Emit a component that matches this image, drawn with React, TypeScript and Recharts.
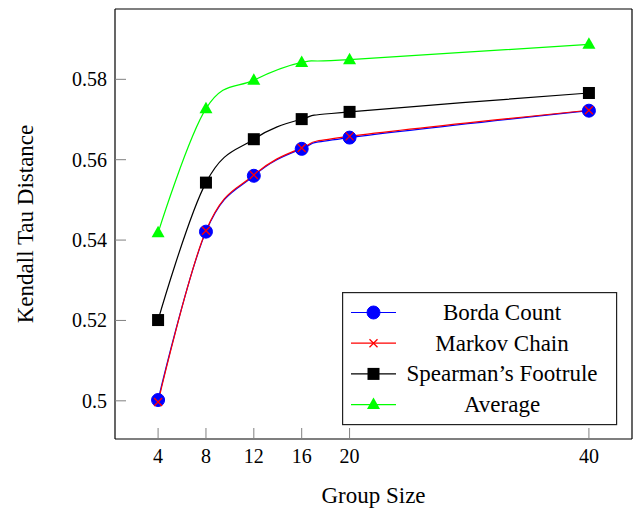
import React from 'react';
import { LineChart, Line, XAxis, YAxis, Legend } from 'recharts';

const groupSizes = [4, 8, 12, 16, 20, 40];
const bordaCount = [0.5002, 0.5421, 0.556, 0.5627, 0.5655, 0.5722];
const markovChain = [0.4997, 0.5423, 0.5562, 0.5629, 0.5658, 0.5723];
const spearmanFootrule = [0.5201, 0.5543, 0.5651, 0.5701, 0.5719, 0.5766];
const average = [0.5418, 0.5727, 0.5798, 0.5842, 0.5849, 0.5887];
const yTicks = [0.5, 0.52, 0.54, 0.56, 0.58];

const FONT = '"Liberation Serif", "DejaVu Serif", serif';

const data = groupSizes.map((g, i) => ({
  group: g,
  borda: bordaCount[i],
  markov: markovChain[i],
  spearman: spearmanFootrule[i],
  average: average[i],
}));

const series = [
  { key: 'borda', name: 'Borda Count', color: '#0000ff', mark: 'circle' },
  { key: 'markov', name: 'Markov Chain', color: '#ff0000', mark: 'cross' },
  { key: 'spearman', name: 'Spearman\u2019s Footrule', color: '#000000', mark: 'square' },
  { key: 'average', name: 'Average', color: '#00ff00', mark: 'triangle' },
];

// pgfplots-like "smooth" curve (cardinal spline, tension 0.55)
const smoothCurve = (context: any) => {
  let pts: number[][] = [];
  return {
    areaStart() {},
    areaEnd() {},
    lineStart() {
      pts = [];
    },
    point(x: number, y: number) {
      pts.push([+x, +y]);
    },
    lineEnd() {
      const n = pts.length;
      if (!n) return;
      context.moveTo(pts[0][0], pts[0][1]);
      const k = 0.55 / 3;
      for (let i = 0; i < n - 1; i++) {
        const p1 = pts[i];
        const p2 = pts[i + 1];
        const p0 = pts[Math.max(i - 1, 0)];
        const p3 = pts[Math.min(i + 2, n - 1)];
        const c1 = i === 0 ? p1 : [p1[0] + k * (p2[0] - p0[0]), p1[1] + k * (p2[1] - p0[1])];
        const c2 = i === n - 2 ? p2 : [p2[0] - k * (p3[0] - p1[0]), p2[1] - k * (p3[1] - p1[1])];
        context.bezierCurveTo(c1[0], c1[1], c2[0], c2[1], p2[0], p2[1]);
      }
    },
  };
};

const Marker = ({ type, color, cx, cy }: { type: string; color: string; cx: number; cy: number }) => {
  if (type === 'circle') return <circle cx={cx} cy={cy} r={6.5} fill={color} stroke={color} />;
  if (type === 'square') return <rect x={cx - 6} y={cy - 6} width={12} height={12} fill={color} />;
  if (type === 'triangle')
    return <polygon points={`${cx},${cy - 7} ${cx - 6.5},${cy + 4.5} ${cx + 6.5},${cy + 4.5}`} fill={color} />;
  return (
    <path
      d={`M${cx - 4},${cy - 4}L${cx + 4},${cy + 4}M${cx - 4},${cy + 4}L${cx + 4},${cy - 4}`}
      stroke={color}
      strokeWidth={1.3}
      fill="none"
    />
  );
};

const LegendBox = () => (
  <svg width={276} height={134} style={{ display: 'block' }}>
    <rect x={0.6} y={0.6} width={274} height={132} fill="#fff" stroke="#222" strokeWidth={1.2} />
    {series.map((s, i) => {
      const y = 20.5 + i * 30.7;
      return (
        <g key={s.key}>
          <line x1={9} x2={54} y1={y} y2={y} stroke={s.color} strokeWidth={1.2} />
          <Marker type={s.mark} color={s.color} cx={31.5} cy={y} />
          <text x={160} y={y + 7.5} textAnchor="middle" fontFamily={FONT} fontSize={23} fill="#000">
            {s.name}
          </text>
        </g>
      );
    })}
  </svg>
);

const YLabel = ({ viewBox }: any) => {
  const x = viewBox.x + 33;
  const y = viewBox.y + viewBox.height / 2;
  return (
    <text x={x} y={y} transform={`rotate(-90, ${x}, ${y})`} textAnchor="middle" fontFamily={FONT} fontSize={23} fill="#000">
      Kendall Tau Distance
    </text>
  );
};

const XLabel = ({ viewBox }: any) => (
  <text
    x={viewBox.x + viewBox.width / 2}
    y={viewBox.y + 64}
    textAnchor="middle"
    fontFamily={FONT}
    fontSize={23}
    fill="#000"
  >
    Group Size
  </text>
);

const XTick = ({ x, y, payload }: any) => (
  <text x={x} y={y + 14} textAnchor="middle" fontFamily={FONT} fontSize={20} fill="#000">
    {payload.value}
  </text>
);

const YTick = ({ x, y, payload }: any) => (
  <text x={x} y={y + 7} textAnchor="end" fontFamily={FONT} fontSize={20} fill="#000">
    {payload.value}
  </text>
);

const axisLine = { stroke: '#000', strokeWidth: 1.2 };
const tickLine = { stroke: '#808080', strokeWidth: 1 };

export default function App() {
  return (
    <div style={{ position: 'absolute', left: 0, top: 0, background: '#fff' }}>
      <LineChart width={634} height={510} data={data} margin={{ top: 8, right: 1, bottom: 0, left: 0 }}>
        <XAxis
          dataKey="group"
          type="number"
          domain={[0.4, 43.6]}
          ticks={groupSizes}
          allowDataOverflow
          height={71}
          axisLine={axisLine}
          tickLine={tickLine}
          tickSize={-11}
          tickMargin={21}
          tick={<XTick />}
          label={<XLabel />}
        />
        <XAxis
          xAxisId="top"
          orientation="top"
          type="number"
          domain={[0.4, 43.6]}
          ticks={groupSizes}
          allowDataOverflow
          height={1}
          axisLine={axisLine}
          tickLine={tickLine}
          tickSize={-11}
          tick={false}
        />
        <YAxis
          type="number"
          domain={[0.4905, 0.5975]}
          ticks={yTicks}
          allowDataOverflow
          width={115}
          axisLine={axisLine}
          tickLine={tickLine}
          tickSize={-11}
          tickMargin={19}
          tick={<YTick />}
          label={<YLabel />}
        />
        <YAxis
          yAxisId="right"
          orientation="right"
          type="number"
          domain={[0.4905, 0.5975]}
          ticks={yTicks}
          allowDataOverflow
          width={1}
          axisLine={axisLine}
          tickLine={tickLine}
          tickSize={-11}
          tick={false}
        />
        {series.map((s) => (
          <Line
            key={s.key}
            dataKey={s.key}
            name={s.name}
            type={smoothCurve as any}
            stroke={s.color}
            strokeWidth={1.2}
            isAnimationActive={false}
            dot={(p: any) => <Marker key={p.index} type={s.mark} color={s.color} cx={p.cx} cy={p.cy} />}
            activeDot={false}
          />
        ))}
        <Legend
          layout="vertical"
          align="center"
          verticalAlign="middle"
          content={() => <LegendBox />}
          wrapperStyle={{ left: 342, top: 292, width: 276, height: 134 }}
        />
      </LineChart>
    </div>
  );
}
